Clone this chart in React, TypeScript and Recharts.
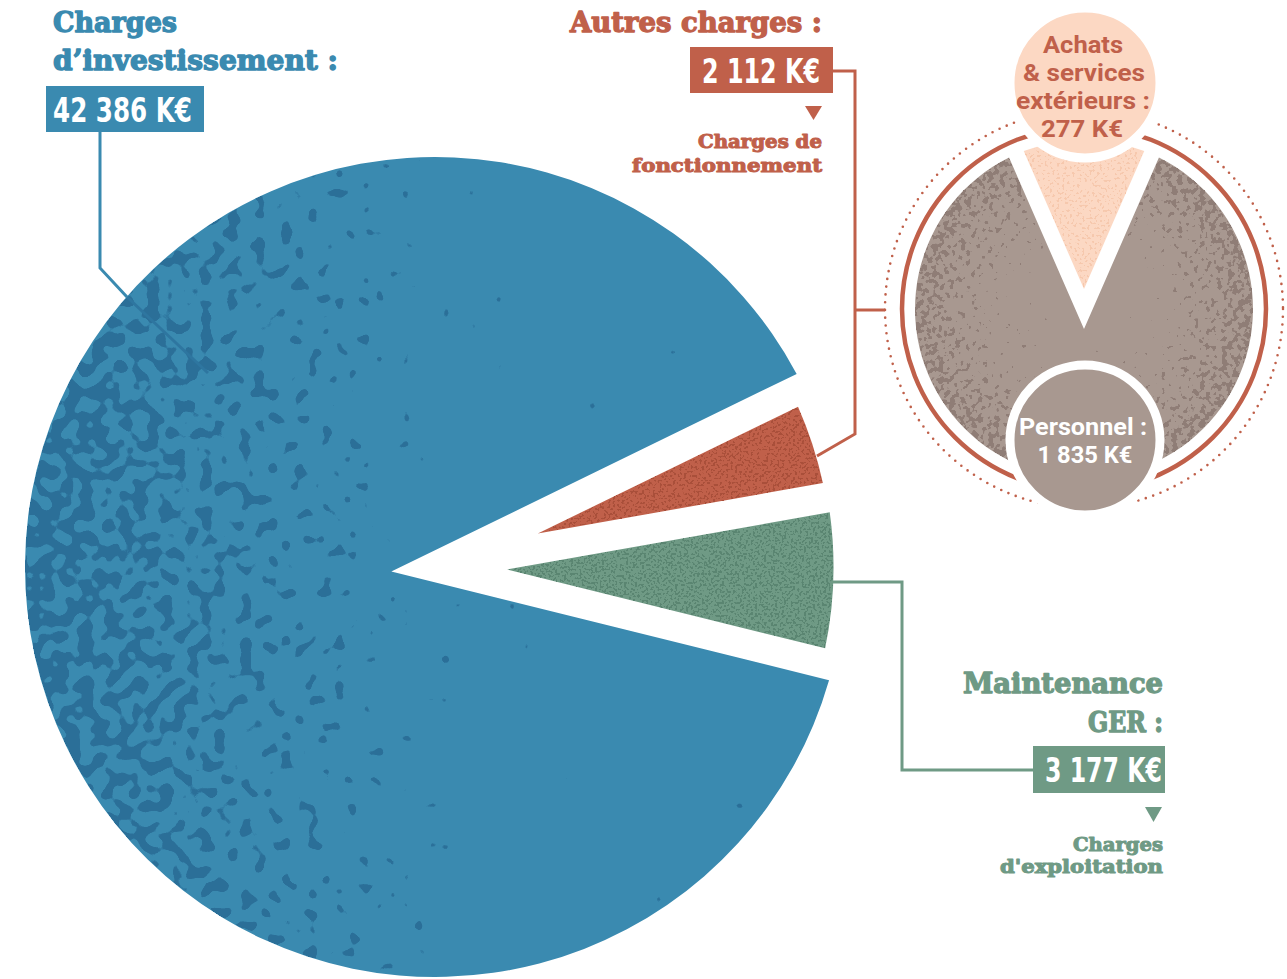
import React from 'react';
import { PieChart, Pie, Cell } from 'recharts';

// main pie: order follows the drawing direction (counter-clockwise from the right)
const mainNames = ['Maintenance GER', 'Autres charges', "Charges d'investissement"];
const mainValues = [3177, 2112, 42386];

// detail of "Autres charges"
const subNames = ['Achats & services extérieurs', 'Personnel'];
const subValues = [277, 1835];

const mainData = mainNames.map((name, i) => ({ name, value: mainValues[i] }));
const subData = subNames.map((name, i) => ({ name, value: subValues[i] }));

const BLUE = '#3a8ab0';
const RED = '#c0604a';
const GREEN = '#6f9a85';
const BROWN = '#a89890';
const PEACH = '#fcd8c3';

const mainStyle = [
  { fill: GREEN, grain: 'url(#gGreen)', filter: 'url(#spkGreen)', scale: 0.972 },
  { fill: RED, grain: 'url(#gRed)', filter: 'url(#spkRed)', scale: 0.968 },
  { fill: BLUE, grain: 'url(#gBlue)', filter: 'url(#spkBlue)', scale: 1 },
];
const subStyle = [
  { fill: PEACH, grain: 'url(#gPeach)', filter: 'url(#spkPeach)', scale: 1 },
  { fill: BROWN, grain: 'url(#gBrown)', filter: 'url(#spkBrown)', scale: 1 },
];

const RAD = Math.PI / 180;
const polar = (cx: number, cy: number, r: number, a: number) => [cx + r * Math.cos(a * RAD), cy - r * Math.sin(a * RAD)];

// sector whose straight edges are pulled in by h, so the gaps keep a constant width
function gapSector(cx: number, cy: number, r: number, a0: number, a1: number, h: number) {
  const half = (a1 - a0) / 2;
  const [ax, ay] = polar(cx, cy, h / Math.sin(half * RAD), a0 + half);
  const da = Math.asin(h / r) / RAD;
  const [sx, sy] = polar(cx, cy, r, a0 + da);
  const [ex, ey] = polar(cx, cy, r, a1 - da);
  const large = a1 - a0 - 2 * da > 180 ? 1 : 0;
  return `M${ax},${ay} L${sx},${sy} A${r},${r} 0 ${large} 0 ${ex},${ey} Z`;
}

const makeSlice = (styles: any[], gap: number) => (props: any) => {
  const { cx, cy, outerRadius, startAngle, endAngle, index } = props;
  const st = styles[index];
  const d = gapSector(cx, cy, outerRadius * st.scale, Math.min(startAngle, endAngle), Math.max(startAngle, endAngle), gap);
  return (
    <g>
      <path d={d} fill={st.fill} />
      <path d={d} fill={st.grain} filter={st.filter} />
    </g>
  );
};

const MainSlice = makeSlice(mainStyle, 15);
const SubSlice = makeSlice(subStyle, 8);

const Speckle = ({ id, color, freq, oct, seed }: any) => (
  <filter id={id} x="0" y="0" width="1" height="1" colorInterpolationFilters="sRGB">
    <feTurbulence type="fractalNoise" baseFrequency={freq} numOctaves={oct} seed={seed} result="noise" />
    <feColorMatrix in="noise" type="matrix" values="0 0 0 0 0 0 0 0 0 0 0 0 0 0 0 1 0 0 0 0" result="na" />
    <feComposite in="SourceAlpha" in2="na" operator="arithmetic" k1="0" k2="1" k3="1" k4="-1" result="sum" />
    <feComponentTransfer in="sum" result="mask">
      <feFuncA type="linear" slope="40" intercept="0" />
    </feComponentTransfer>
    <feFlood floodColor={color} result="flood" />
    <feComposite in="flood" in2="mask" operator="in" />
  </filter>
);

const HEAD = "'DejaVu Serif', serif";
const NUM = "'Liberation Sans Narrow', 'DejaVu Sans Condensed', sans-serif";
const SANS = "Roboto, 'DejaVu Sans', sans-serif";

const T = ({ x, y, w, size, color, family, anchor = 'start', bold = 0, children }: any) => (
  <text x={x} y={y} fontSize={size} fill={color} fontFamily={family} fontWeight={700}
    stroke={bold ? color : 'none'} strokeWidth={bold} strokeLinejoin="round"
    textAnchor={anchor} textLength={w} lengthAdjust="spacingAndGlyphs">
    {children}
  </text>
);

const App: React.FC = () => {
  const startMain = 26 - ((mainValues[0] + mainValues[1]) / mainValues.reduce((a, b) => a + b, 0)) * 360;
  const startSub = 90 - (subValues[0] / (subValues[0] + subValues[1])) * 180;

  return (
    <div style={{ position: 'absolute', left: 0, top: 0, width: 1287, height: 979, background: '#fff' }}>
      <svg width={0} height={0} style={{ position: 'absolute' }}>
        <defs>
          <linearGradient id="gBlue" gradientUnits="userSpaceOnUse" x1={25} y1={0} x2={480} y2={0}>
            <stop offset="0" stopColor="#000" stopOpacity={0.56} />
            <stop offset="0.35" stopColor="#000" stopOpacity={0.46} />
            <stop offset="0.65" stopColor="#000" stopOpacity={0.37} />
            <stop offset="1" stopColor="#000" stopOpacity={0.2} />
          </linearGradient>
          <linearGradient id="gRed"><stop offset="0" stopColor="#000" stopOpacity={0.44} /></linearGradient>
          <linearGradient id="gGreen"><stop offset="0" stopColor="#000" stopOpacity={0.46} /></linearGradient>
          <linearGradient id="gPeach"><stop offset="0" stopColor="#000" stopOpacity={0.4} /></linearGradient>
          <radialGradient id="gBrown" gradientUnits="userSpaceOnUse" cx={1084} cy={309} r={169}>
            <stop offset="0" stopColor="#000" stopOpacity={0.08} />
            <stop offset="0.55" stopColor="#000" stopOpacity={0.28} />
            <stop offset="0.85" stopColor="#000" stopOpacity={0.44} />
            <stop offset="1" stopColor="#000" stopOpacity={0.52} />
          </radialGradient>
          <Speckle id="spkBlue" color="#2b6f98" freq={0.075} oct={1} seed={4} />
          <Speckle id="spkRed" color="#a94f3a" freq={0.45} oct={1} seed={2} />
          <Speckle id="spkGreen" color="#5a8571" freq={0.45} oct={1} seed={5} />
          <Speckle id="spkPeach" color="#f6c8ad" freq={0.4} oct={1} seed={8} />
          <Speckle id="spkBrown" color="#8f7d76" freq={0.18} oct={2} seed={9} />
        </defs>
      </svg>

      <PieChart width={1287} height={979} margin={{ top: 0, right: 0, bottom: 0, left: 0 }}>
        <Pie data={mainData} dataKey="value" nameKey="name" cx={435} cy={567} innerRadius={0} outerRadius={410}
          startAngle={startMain} endAngle={startMain + 360} stroke="none" shape={MainSlice}
          isAnimationActive={false} label={false} labelLine={false}>
          {mainData.map((d, i) => <Cell key={d.name} fill={mainStyle[i].fill} />)}
        </Pie>
        <Pie data={subData} dataKey="value" nameKey="name" cx={1084} cy={309} innerRadius={0} outerRadius={169}
          startAngle={startSub} endAngle={startSub + 360} stroke="none" shape={SubSlice}
          isAnimationActive={false} label={false} labelLine={false}>
          {subData.map((d, i) => <Cell key={d.name} fill={subStyle[i].fill} />)}
        </Pie>
      </PieChart>

      <svg width={1287} height={979} style={{ position: 'absolute', left: 0, top: 0, pointerEvents: 'none' }}>
        {/* rings around the detail pie */}
        <circle cx={1084} cy={309} r={182} fill="none" stroke={RED} strokeWidth={4.5} />
        <circle cx={1084} cy={309} r={199} fill="none" stroke={RED} strokeWidth={2.6}
          strokeDasharray="0 7.8" strokeLinecap="round" />
        <circle cx={1085} cy={83} r={75} fill={PEACH} stroke="#fff" strokeWidth={9} />
        <circle cx={1085} cy={440} r={75} fill={BROWN} stroke="#fff" strokeWidth={9} />

        {/* connectors */}
        <polyline points="100,132 100,268 127,297" fill="none" stroke={BLUE} strokeWidth={3} />
        <polyline points="127,297 208,373" fill="none" stroke="#2e76a0" strokeWidth={3} />
        <polyline points="833,71 855,71 855,434 817,456" fill="none" stroke={RED} strokeWidth={3} />
        <polyline points="855,310 885,310" fill="none" stroke={RED} strokeWidth={3} />
        <polyline points="831,582 902,582 902,770 1033,770" fill="none" stroke={GREEN} strokeWidth={3} />

        {/* Charges d'investissement */}
        <T x={53} y={32} w={124} size={27} color={BLUE} family={HEAD} bold={1.3}>Charges</T>
        <T x={53} y={70} w={285} size={27} color={BLUE} family={HEAD} bold={1.3}>d’investissement :</T>
        <rect x={46} y={86} width={158} height={46} fill={BLUE} />
        <T x={53} y={122} w={139} size={34} color="#fff" family={NUM}>42 386 K€</T>

        {/* Autres charges */}
        <T x={822} y={32} w={252} size={27} color={RED} family={HEAD} anchor="end" bold={1.3}>Autres charges :</T>
        <rect x={690} y={47} width={143} height={46} fill={RED} />
        <T x={820} y={83} w={118} size={34} color="#fff" family={NUM} anchor="end">2 112 K€</T>
        <polygon points="805,106 822,106 813.5,120" fill={RED} />
        <T x={822} y={148} w={124} size={18} color={RED} family={HEAD} anchor="end" bold={1}>Charges de</T>
        <T x={822} y={172} w={190} size={18} color={RED} family={HEAD} anchor="end" bold={1}>fonctionnement</T>

        {/* Maintenance GER */}
        <T x={1163} y={693} w={200} size={27} color={GREEN} family={HEAD} anchor="end" bold={1.3}>Maintenance</T>
        <T x={1163} y={732} w={75} size={27} color={GREEN} family={HEAD} anchor="end" bold={1.3}>GER :</T>
        <rect x={1033} y={746} width={132} height={47} fill={GREEN} />
        <T x={1162} y={782} w={117} size={34} color="#fff" family={NUM} anchor="end">3 177 K€</T>
        <polygon points="1145,807 1162,807 1153.5,822" fill={GREEN} />
        <T x={1163} y={851} w={90} size={18} color={GREEN} family={HEAD} anchor="end" bold={1}>Charges</T>
        <T x={1163} y={873} w={163} size={18} color={GREEN} family={HEAD} anchor="end" bold={1}>d'exploitation</T>

        {/* detail labels */}
        <T x={1083} y={53} w={80} size={24} color={RED} family={SANS} anchor="middle">Achats</T>
        <T x={1084} y={81} w={122} size={24} color={RED} family={SANS} anchor="middle">&amp; services</T>
        <T x={1083} y={109} w={134} size={24} color={RED} family={SANS} anchor="middle">extérieurs :</T>
        <T x={1082} y={137} w={82} size={24} color={RED} family={SANS} anchor="middle">277 K€</T>
        <T x={1083} y={435} w={128} size={24} color="#fff" family={SANS} anchor="middle">Personnel :</T>
        <T x={1085} y={463} w={95} size={24} color="#fff" family={SANS} anchor="middle">1 835 K€</T>
      </svg>
    </div>
  );
};

export default App;
